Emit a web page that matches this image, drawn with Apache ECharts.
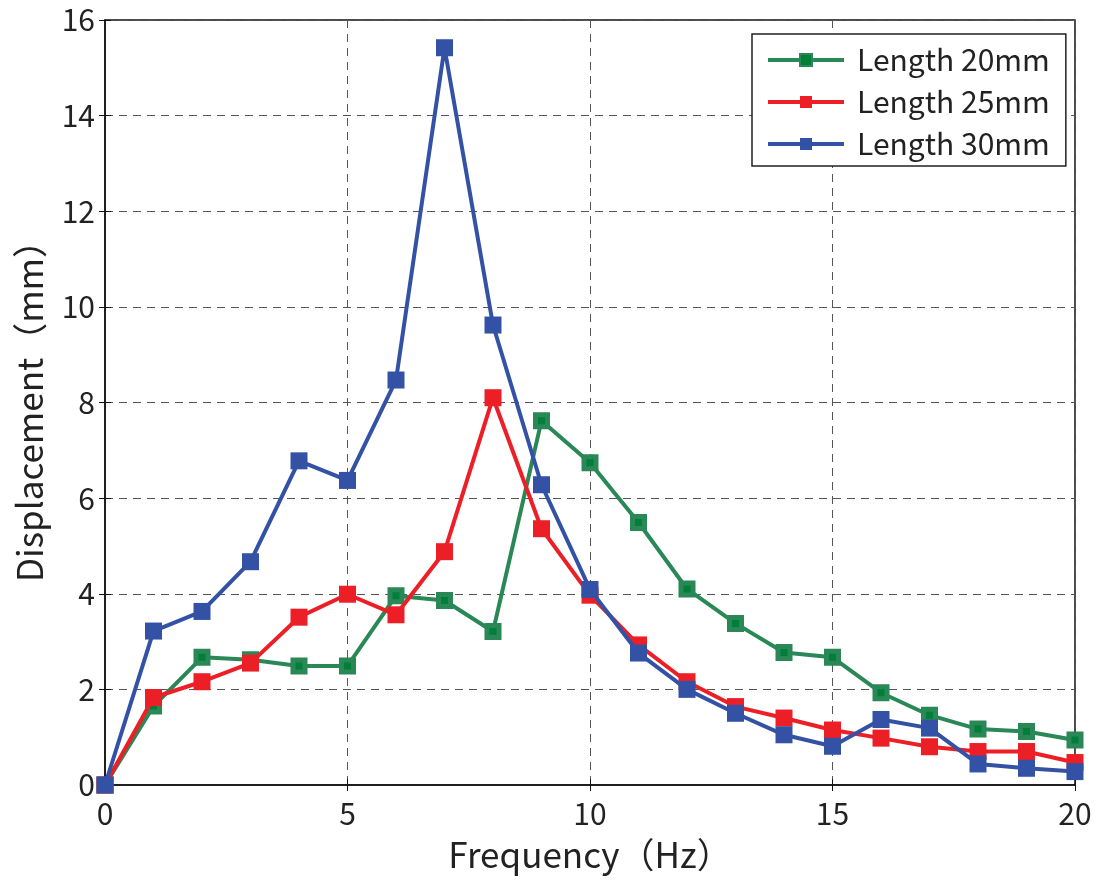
<!DOCTYPE html>
<html>
<head>
<meta charset="utf-8">
<script src="https://cdn.jsdelivr.net/npm/echarts@6/dist/echarts.min.js"></script>
<style>
  html, body { margin: 0; padding: 0; background: #fff; }
  #chart { width: 1102px; height: 880px; }
</style>
</head>
<body>
<div id="chart"></div>
<script>
// Frequency sweep: 0..20 Hz, 1 Hz steps
const frequency = [0,1,2,3,4,5,6,7,8,9,10,11,12,13,14,15,16,17,18,19,20];

// Measured displacement (mm) for three specimen lengths
const len20 = [0,1.65,2.67,2.62,2.49,2.49,3.96,3.86,3.21,7.62,6.74,5.49,4.10,3.38,2.77,2.67,1.93,1.46,1.17,1.12,0.94];
const len25 = [0,1.83,2.16,2.55,3.51,3.99,3.56,4.88,8.10,5.36,3.97,2.93,2.16,1.64,1.40,1.15,0.98,0.80,0.70,0.70,0.47];
const len30 = [0,3.22,3.63,4.67,6.78,6.37,8.47,15.42,9.62,6.28,4.09,2.76,2.00,1.50,1.05,0.81,1.37,1.19,0.44,0.35,0.28];

const seriesNames = ['Length 20mm', 'Length 25mm', 'Length 30mm'];

const FONT = '"Noto Sans CJK JP", "Noto Sans", sans-serif';
const TEXT = '#222';

const pairs = (ys) => frequency.map((x, i) => [x, ys[i]]);

const chart = echarts.init(document.getElementById('chart'), null, { renderer: 'canvas' });

const gridLine = { show: true, lineStyle: { color: '#555', width: 1, type: [8, 6] } };

chart.setOption({
  backgroundColor: '#fff',
  animation: false,
  textStyle: { fontFamily: FONT, color: TEXT },
  grid: {
    left: 105, right: 27, top: 20, bottom: 95,
    show: true, borderColor: '#111', borderWidth: 1.5, backgroundColor: 'transparent'
  },
  legend: {
    data: seriesNames,
    orient: 'vertical',
    left: 752, top: 34,
    backgroundColor: '#fff',
    borderColor: '#222', borderWidth: 1.5,
    padding: [10, 16, 6, 14],
    itemWidth: 76, itemHeight: 15, itemGap: 10,
    lineStyle: { width: 4 },
    textStyle: { fontFamily: FONT, fontSize: 30, color: TEXT, lineHeight: 32, padding: [0, 0, 0, 8] }
  },
  xAxis: [{
    type: 'value', min: 0, max: 20, interval: 5,
    name: 'Frequency（Hz）', nameLocation: 'middle', nameGap: 52,
    nameTextStyle: { fontFamily: FONT, fontSize: 35, color: TEXT },
    axisLine: { show: true, lineStyle: { color: '#111', width: 1.5 } },
    axisTick: { show: true, inside: true, length: 6, lineStyle: { color: '#111' } },
    axisLabel: { fontFamily: FONT, fontSize: 30, color: TEXT, margin: 14 },
    splitLine: gridLine
  }, {
    type: 'value', min: 0, max: 20, interval: 5, position: 'top',
    axisLine: { show: false },
    axisTick: { show: true, inside: true, length: 6, lineStyle: { color: '#111' } },
    axisLabel: { show: false }, splitLine: { show: false }
  }],
  yAxis: [{
    type: 'value', min: 0, max: 16, interval: 2,
    name: 'Displacement（mm）', nameLocation: 'middle', nameGap: 58,
    nameTextStyle: { fontFamily: FONT, fontSize: 35, color: TEXT },
    axisLine: { show: true, lineStyle: { color: '#111', width: 1.5 } },
    axisTick: { show: true, inside: true, length: 6, lineStyle: { color: '#111' } },
    axisLabel: { fontFamily: FONT, fontSize: 30, color: TEXT, margin: 10 },
    splitLine: gridLine
  }, {
    type: 'value', min: 0, max: 16, interval: 2, position: 'right',
    axisLine: { show: false },
    axisTick: { show: true, inside: true, length: 6, lineStyle: { color: '#111' } },
    axisLabel: { show: false }, splitLine: { show: false }
  }],
  series: [
    {
      name: seriesNames[0], type: 'line', data: pairs(len20),
      symbol: 'rect', symbolSize: 12,
      lineStyle: { color: '#2a8756', width: 4 },
      itemStyle: { color: '#007f3a', borderColor: '#2a8756', borderWidth: 5 },
      z: 2
    },
    {
      name: seriesNames[1], type: 'line', data: pairs(len25),
      symbol: 'rect', symbolSize: 17,
      lineStyle: { color: '#ec1f27', width: 4 },
      itemStyle: { color: '#ec1f27' },
      z: 3
    },
    {
      name: seriesNames[2], type: 'line', data: pairs(len30),
      symbol: 'rect', symbolSize: 17,
      lineStyle: { color: '#3452a5', width: 4 },
      itemStyle: { color: '#3452a5' },
      z: 4
    }
  ]
});
</script>
</body>
</html>
